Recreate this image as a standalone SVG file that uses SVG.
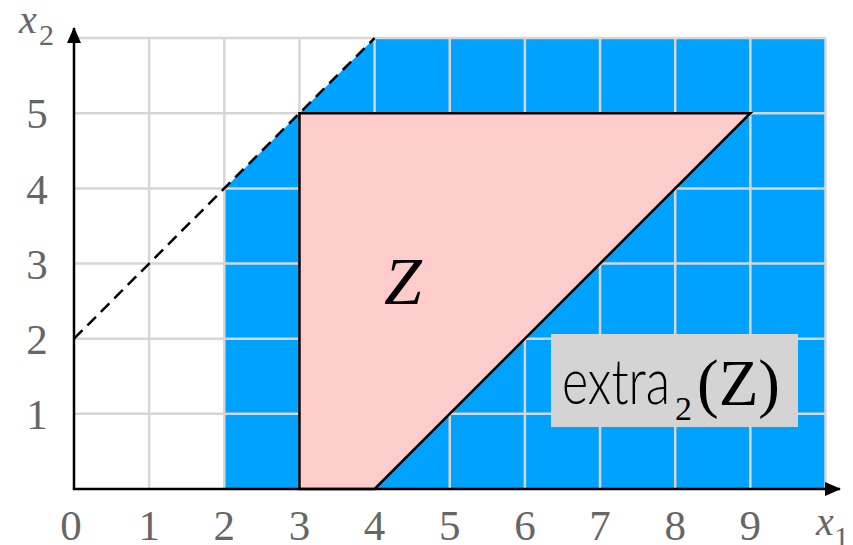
<svg xmlns="http://www.w3.org/2000/svg" width="853" height="545" viewBox="0 0 853 545">
<defs>
<style>
.serif{font-family:"Liberation Serif","Tinos","DejaVu Serif",serif}
.grid line{stroke:#d6d6d6;stroke-width:2.5}
.tick{font-size:43px;fill:#666;text-anchor:middle}
.ax{fill:#666}
.axis{stroke:#000;stroke-width:2.5;fill:none}
</style>
<marker id="arr" viewBox="0 0 16 14" refX="15" refY="7" markerWidth="16" markerHeight="14" markerUnits="userSpaceOnUse" orient="auto">
<path d="M0,0 L16,7 L0,14 Z" fill="#000"/>
</marker>
</defs>
<rect width="853" height="545" fill="#fff"/>
<g id="extra-region">
<polygon points="224.3,489 825.5,489 825.5,38.1 374.6,38.1 224.3,188.7" fill="#00a2ff"/>
</g>
<g class="grid" id="grid">
<line x1="149.15" y1="38.1" x2="149.15" y2="489"/>
<line x1="224.3" y1="38.1" x2="224.3" y2="489"/>
<line x1="299.45" y1="38.1" x2="299.45" y2="489"/>
<line x1="374.6" y1="38.1" x2="374.6" y2="489"/>
<line x1="449.75" y1="38.1" x2="449.75" y2="489"/>
<line x1="524.9" y1="38.1" x2="524.9" y2="489"/>
<line x1="600.05" y1="38.1" x2="600.05" y2="489"/>
<line x1="675.2" y1="38.1" x2="675.2" y2="489"/>
<line x1="750.35" y1="38.1" x2="750.35" y2="489"/>
<line x1="825.5" y1="38.1" x2="825.5" y2="489"/>
<line x1="74" y1="413.85" x2="825.5" y2="413.85"/>
<line x1="74" y1="338.7" x2="825.5" y2="338.7"/>
<line x1="74" y1="263.55" x2="825.5" y2="263.55"/>
<line x1="74" y1="188.4" x2="825.5" y2="188.4"/>
<line x1="74" y1="113.25" x2="825.5" y2="113.25"/>
<line x1="74" y1="38.1" x2="825.5" y2="38.1"/>
</g>
<g id="Z">
<polygon points="299.45,489 299.45,113.25 750.35,113.25 374.6,489" fill="#ffcccc" stroke="#000" stroke-width="2.5" stroke-linejoin="miter"/>
<text class="serif" x="403" y="304" font-style="italic" font-size="68" text-anchor="middle" fill="#000">Z</text>
</g>
<g id="connectors">
<line x1="74" y1="338.7" x2="374.6" y2="38.1" stroke="#000" stroke-width="2.5" stroke-dasharray="12,7"/>
<line class="axis" x1="74" y1="489" x2="74" y2="28" marker-end="url(#arr)"/>
<line class="axis" x1="72.8" y1="489" x2="840" y2="489" marker-end="url(#arr)"/>
</g>
<g id="ticks" class="serif">
<text class="tick" x="71" y="540">0</text>
<text class="tick" x="149.15" y="540">1</text>
<text class="tick" x="224.3" y="540">2</text>
<text class="tick" x="299.45" y="540">3</text>
<text class="tick" x="374.6" y="540">4</text>
<text class="tick" x="449.75" y="540">5</text>
<text class="tick" x="524.9" y="540">6</text>
<text class="tick" x="600.05" y="540">7</text>
<text class="tick" x="675.2" y="540">8</text>
<text class="tick" x="750.35" y="540">9</text>
<text class="tick" x="37" y="429">1</text>
<text class="tick" x="37" y="354">2</text>
<text class="tick" x="37" y="279">3</text>
<text class="tick" x="37" y="204">4</text>
<text class="tick" x="37" y="128">5</text>
</g>
<g id="axis-labels" class="serif">
<text class="ax" x="19" y="33" font-size="40" font-style="italic">x</text>
<text class="ax" x="39" y="45" font-size="30">2</text>
<text class="ax" x="816" y="535" font-size="40" font-style="italic">x</text>
<text class="ax" x="834" y="547" font-size="30">1</text>
</g>
<g id="extra-label">
<rect x="551" y="334" width="247" height="93" fill="#d4d4d4"/>
<text x="562" y="404" font-family="Lato,'Liberation Sans',sans-serif" font-weight="300" font-size="63" textLength="108" lengthAdjust="spacingAndGlyphs" fill="#000">extra</text>
<text class="serif" x="675" y="420" font-size="34" fill="#000">2</text>
<text class="serif" x="697" y="405" font-size="65" fill="#000">(Z)</text>
</g>
</svg>
